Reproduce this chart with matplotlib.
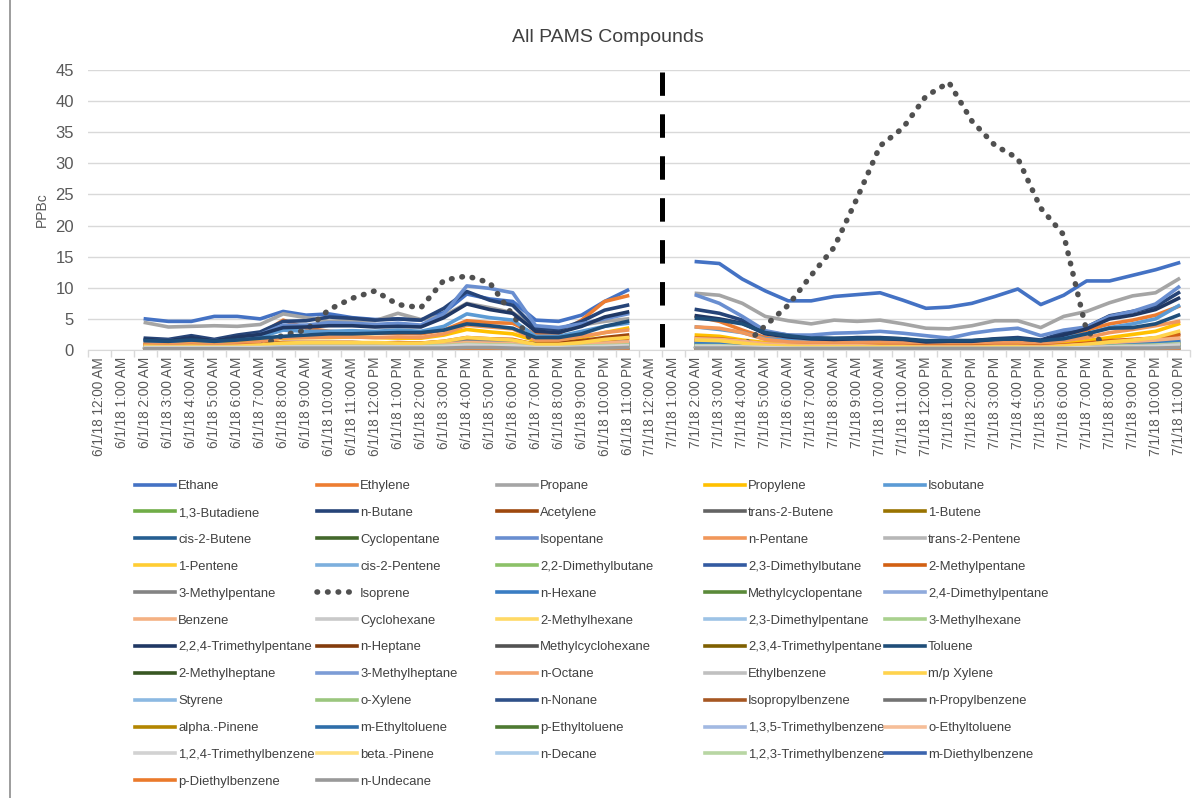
import numpy as np
import matplotlib
matplotlib.use('Agg')
import matplotlib.pyplot as plt
from matplotlib.lines import Line2D

plt.rcParams['font.family'] = ['Liberation Sans', 'DejaVu Sans']

days = ['6/1/18', '7/1/18']
hours = ['12:00 AM', '1:00 AM', '2:00 AM', '3:00 AM', '4:00 AM', '5:00 AM', '6:00 AM',
         '7:00 AM', '8:00 AM', '9:00 AM', '10:00 AM', '11:00 AM', '12:00 PM', '1:00 PM',
         '2:00 PM', '3:00 PM', '4:00 PM', '5:00 PM', '6:00 PM', '7:00 PM', '8:00 PM',
         '9:00 PM', '10:00 PM', '11:00 PM']
categories = [d + ' ' + h for d in days for h in hours]
# hours that have data on each day (2 AM .. 11 PM)
sample_hours = hours[2:]

names = ['Ethane', 'Ethylene', 'Propane', 'Propylene', 'Isobutane', '1,3-Butadiene', 'n-Butane',
         'Acetylene', 'trans-2-Butene', '1-Butene', 'cis-2-Butene', 'Cyclopentane', 'Isopentane',
         'n-Pentane', 'trans-2-Pentene', '1-Pentene', 'cis-2-Pentene', '2,2-Dimethylbutane',
         '2,3-Dimethylbutane', '2-Methylpentane', '3-Methylpentane', 'Isoprene', 'n-Hexane',
         'Methylcyclopentane', '2,4-Dimethylpentane', 'Benzene', 'Cyclohexane', '2-Methylhexane',
         '2,3-Dimethylpentane', '3-Methylhexane', '2,2,4-Trimethylpentane', 'n-Heptane',
         'Methylcyclohexane', '2,3,4-Trimethylpentane', 'Toluene', '2-Methylheptane',
         '3-Methylheptane', 'n-Octane', 'Ethylbenzene', 'm/p Xylene', 'Styrene', 'o-Xylene',
         'n-Nonane', 'Isopropylbenzene', 'n-Propylbenzene', 'alpha.-Pinene', 'm-Ethyltoluene',
         'p-Ethyltoluene', '1,3,5-Trimethylbenzene', 'o-Ethyltoluene', '1,2,4-Trimethylbenzene',
         'beta.-Pinene', 'n-Decane', '1,2,3-Trimethylbenzene', 'm-Diethylbenzene',
         'p-Diethylbenzene', 'n-Undecane']

# PPBc, first 22 values = 6/1 2AM..11PM, last 22 = 7/1 2AM..11PM
ethane = [5.0, 4.6, 4.6, 5.4, 5.4, 5.0, 6.2, 5.6, 5.8, 5.2, 4.9, 5.0, 4.8, 6.0, 9.0, 8.2, 7.8, 4.8, 4.6, 5.6, 7.8, 9.6,
          14.2, 13.9, 11.4, 9.5, 7.9, 7.9, 8.6, 8.9, 9.2, 8.0, 6.7, 6.9, 7.5, 8.6, 9.8, 7.3, 8.8, 11.1, 11.1, 12.0, 12.9, 14.0]
ethylene = [1.2, 1.2, 1.5, 1.3, 1.8, 2.5, 4.8, 3.5, 3.0, 2.8, 2.7, 2.7, 2.6, 3.2, 4.7, 4.4, 4.3, 2.5, 2.6, 4.8, 7.8, 8.7,
            5.4, 4.6, 3.2, 2.0, 1.6, 1.5, 1.5, 1.5, 1.5, 1.4, 1.2, 1.2, 1.3, 1.4, 1.5, 1.0, 2.0, 3.2, 4.2, 4.8, 5.6, 7.0]
propane = [4.4, 3.7, 3.8, 3.9, 3.8, 4.1, 5.8, 5.2, 4.6, 4.8, 4.7, 5.9, 4.9, 5.5, 7.5, 6.8, 6.0, 3.6, 3.5, 4.0, 4.6, 5.0,
           9.1, 8.8, 7.5, 5.4, 4.7, 4.2, 4.8, 4.6, 4.8, 4.2, 3.5, 3.4, 3.9, 4.7, 4.7, 3.6, 5.4, 6.2, 7.6, 8.7, 9.2, 11.4]
propylene = [0.9, 0.9, 1.0, 0.9, 1.1, 1.4, 1.9, 2.0, 2.0, 2.1, 2.0, 1.9, 1.9, 2.4, 3.3, 2.9, 2.6, 1.5, 1.5, 2.0, 2.8, 3.5,
             2.4, 2.2, 1.6, 1.2, 1.0, 0.9, 0.9, 0.9, 0.9, 0.9, 0.8, 0.8, 0.8, 0.9, 0.9, 0.7, 1.0, 1.5, 2.0, 2.5, 3.0, 4.2]
isobutane = [1.5, 1.4, 1.6, 1.4, 1.7, 2.1, 3.2, 3.0, 3.0, 3.1, 3.0, 3.2, 3.0, 3.8, 5.8, 5.2, 4.8, 2.2, 2.2, 3.0, 3.8, 4.3,
             3.7, 3.3, 2.8, 1.8, 1.6, 1.5, 1.6, 1.6, 1.7, 1.6, 1.4, 1.4, 1.5, 1.7, 1.8, 1.3, 2.0, 2.6, 3.6, 4.2, 5.0, 7.1]
butadiene = [0.1, 0.1, 0.1, 0.1, 0.1, 0.1, 0.2, 0.2, 0.2, 0.2, 0.2, 0.2, 0.2, 0.2, 0.3, 0.2, 0.2, 0.1, 0.1, 0.1, 0.2, 0.2,
             0.2, 0.2, 0.1, 0.1, 0.1, 0.1, 0.1, 0.1, 0.1, 0.1, 0.1, 0.1, 0.1, 0.1, 0.1, 0.1, 0.1, 0.1, 0.2, 0.2, 0.2, 0.3]
n_butane = [1.9, 1.7, 2.3, 1.7, 2.4, 2.9, 4.6, 4.7, 5.3, 5.1, 4.8, 5.0, 4.8, 6.7, 9.4, 8.0, 7.2, 3.5, 3.3, 4.6, 6.4, 7.2,
            6.5, 5.9, 4.8, 2.9, 2.4, 2.0, 1.8, 2.0, 2.0, 1.8, 1.3, 1.5, 1.5, 1.8, 2.0, 1.6, 2.8, 3.7, 5.5, 6.2, 7.0, 9.2]
acetylene = [0.8, 0.7, 0.8, 0.7, 0.8, 0.9, 1.2, 1.2, 1.2, 1.2, 1.1, 1.1, 1.1, 1.3, 1.6, 1.5, 1.4, 1.0, 1.1, 1.5, 2.0, 2.4,
             1.5, 1.4, 1.1, 0.8, 0.7, 0.6, 0.6, 0.6, 0.6, 0.6, 0.5, 0.5, 0.5, 0.6, 0.6, 0.5, 0.7, 1.0, 1.3, 1.6, 1.9, 2.6]
trans2butene = [0.1, 0.1, 0.1, 0.1, 0.1, 0.1, 0.2, 0.2, 0.2, 0.2, 0.2, 0.2, 0.2, 0.2, 0.3, 0.3, 0.3, 0.1, 0.1, 0.1, 0.2, 0.2,
                0.2, 0.2, 0.2, 0.1, 0.1, 0.1, 0.1, 0.1, 0.1, 0.1, 0.1, 0.1, 0.1, 0.1, 0.1, 0.1, 0.1, 0.1, 0.2, 0.2, 0.2, 0.3]
butene1 = [0.3, 0.3, 0.3, 0.3, 0.3, 0.4, 0.5, 0.5, 0.5, 0.5, 0.5, 0.5, 0.5, 0.6, 0.8, 0.7, 0.7, 0.4, 0.4, 0.5, 0.7, 0.8,
           0.7, 0.6, 0.5, 0.4, 0.3, 0.3, 0.3, 0.3, 0.3, 0.3, 0.3, 0.3, 0.3, 0.3, 0.3, 0.3, 0.3, 0.4, 0.5, 0.6, 0.7, 0.9]
cis2butene = [0.1, 0.1, 0.1, 0.1, 0.1, 0.1, 0.1, 0.1, 0.1, 0.1, 0.1, 0.1, 0.1, 0.2, 0.2, 0.2, 0.2, 0.1, 0.1, 0.1, 0.1, 0.2,
              0.2, 0.1, 0.1, 0.1, 0.1, 0.1, 0.1, 0.1, 0.1, 0.1, 0.1, 0.1, 0.1, 0.1, 0.1, 0.1, 0.1, 0.1, 0.1, 0.1, 0.2, 0.2]
cyclopentane = [0.1, 0.1, 0.1, 0.1, 0.1, 0.1, 0.2, 0.2, 0.2, 0.2, 0.2, 0.2, 0.2, 0.2, 0.3, 0.3, 0.3, 0.1, 0.1, 0.2, 0.2, 0.3,
                0.3, 0.3, 0.2, 0.1, 0.1, 0.1, 0.1, 0.1, 0.1, 0.1, 0.1, 0.1, 0.1, 0.1, 0.1, 0.1, 0.1, 0.2, 0.2, 0.3, 0.3, 0.4]
isopentane = [1.6, 1.5, 1.9, 1.5, 2.0, 2.5, 4.0, 4.0, 4.4, 4.3, 4.1, 4.3, 4.0, 5.8, 10.3, 9.9, 9.2, 3.9, 3.6, 4.2, 5.0, 5.8,
              8.8, 7.5, 5.4, 3.1, 2.4, 2.4, 2.7, 2.8, 3.0, 2.7, 2.3, 1.9, 2.7, 3.2, 3.5, 2.3, 3.2, 3.7, 5.4, 6.2, 7.4, 10.1]
n_pentane = [0.9, 0.8, 1.0, 0.8, 1.0, 1.3, 2.0, 2.0, 2.1, 2.1, 2.0, 2.1, 2.0, 2.6, 4.0, 3.7, 3.4, 1.6, 1.6, 2.2, 2.8, 3.2,
             3.7, 3.5, 2.8, 1.7, 1.3, 1.2, 1.2, 1.2, 1.3, 1.2, 1.0, 1.0, 1.1, 1.2, 1.3, 1.0, 1.5, 2.0, 2.8, 3.3, 3.9, 4.6]
trans2pentene = [0.1, 0.1, 0.1, 0.1, 0.1, 0.1, 0.1, 0.1, 0.1, 0.1, 0.1, 0.1, 0.1, 0.1, 0.2, 0.2, 0.1, 0.1, 0.1, 0.1, 0.1, 0.1,
                 0.1, 0.1, 0.1, 0.1, 0.1, 0.1, 0.1, 0.1, 0.1, 0.1, 0.1, 0.1, 0.1, 0.1, 0.1, 0.1, 0.1, 0.1, 0.1, 0.1, 0.1, 0.2]
pentene1 = [0.1, 0.1, 0.1, 0.1, 0.1, 0.1, 0.2, 0.2, 0.2, 0.2, 0.2, 0.2, 0.2, 0.2, 0.3, 0.3, 0.2, 0.1, 0.1, 0.2, 0.2, 0.2,
            0.2, 0.2, 0.1, 0.1, 0.1, 0.1, 0.1, 0.1, 0.1, 0.1, 0.1, 0.1, 0.1, 0.1, 0.1, 0.1, 0.1, 0.1, 0.1, 0.2, 0.2, 0.2]
cis2pentene = [0.05, 0.05, 0.05, 0.05, 0.05, 0.1, 0.1, 0.1, 0.1, 0.1, 0.1, 0.1, 0.1, 0.1, 0.2, 0.2, 0.1, 0.1, 0.05, 0.1, 0.1, 0.1,
               0.1, 0.1, 0.1, 0.05, 0.05, 0.05, 0.05, 0.05, 0.05, 0.05, 0.05, 0.05, 0.05, 0.05, 0.05, 0.05, 0.05, 0.05, 0.1, 0.1, 0.1, 0.1]
dmb22 = [0.2, 0.2, 0.2, 0.2, 0.2, 0.2, 0.3, 0.3, 0.3, 0.3, 0.3, 0.3, 0.3, 0.3, 0.4, 0.4, 0.4, 0.2, 0.2, 0.3, 0.3, 0.4,
         0.4, 0.3, 0.3, 0.2, 0.2, 0.2, 0.2, 0.2, 0.2, 0.2, 0.2, 0.2, 0.2, 0.2, 0.2, 0.2, 0.2, 0.2, 0.3, 0.3, 0.4, 0.5]
dmb23 = [0.4, 0.4, 0.4, 0.4, 0.4, 0.5, 0.7, 0.7, 0.7, 0.7, 0.7, 0.7, 0.7, 0.8, 1.1, 1.0, 0.9, 0.5, 0.5, 0.7, 0.9, 1.0,
         1.0, 0.9, 0.7, 0.5, 0.4, 0.4, 0.4, 0.4, 0.4, 0.4, 0.3, 0.3, 0.3, 0.4, 0.4, 0.3, 0.4, 0.6, 0.8, 0.9, 1.0, 1.3]
mp2 = [0.7, 0.6, 0.7, 0.6, 0.7, 0.8, 1.2, 1.2, 1.2, 1.2, 1.1, 1.2, 1.1, 1.4, 2.0, 1.8, 1.7, 0.9, 0.9, 1.2, 1.6, 1.9,
       1.9, 1.8, 1.4, 0.9, 0.8, 0.7, 0.7, 0.7, 0.7, 0.7, 0.6, 0.6, 0.6, 0.7, 0.7, 0.6, 0.8, 1.1, 1.5, 1.7, 1.9, 2.4]
mp3 = [0.5, 0.4, 0.5, 0.4, 0.5, 0.6, 0.8, 0.8, 0.8, 0.8, 0.8, 0.8, 0.8, 1.0, 1.4, 1.3, 1.2, 0.6, 0.6, 0.8, 1.1, 1.3,
       1.3, 1.2, 0.9, 0.6, 0.5, 0.5, 0.5, 0.5, 0.5, 0.5, 0.4, 0.4, 0.4, 0.5, 0.5, 0.4, 0.5, 0.7, 1.0, 1.1, 1.3, 1.6]
isoprene = [0.3, 0.3, 0.3, 0.3, 0.4, 0.6, 2.4, 3.2, 6.5, 8.3, 9.5, 7.3, 6.8, 11.2, 11.9, 10.8, 5.6, 0.6, 0.5, 0.5, 0.4, 0.4,
            0.4, 0.4, 0.5, 3.9, 7.2, 12.0, 16.5, 24.4, 32.8, 35.7, 40.8, 43.0, 36.8, 32.9, 30.8, 22.8, 18.5, 3.0, 0.5, 0.5, 0.4, 0.4]
hexane = [0.4, 0.4, 0.4, 0.4, 0.4, 0.5, 0.7, 0.7, 0.7, 0.7, 0.7, 0.7, 0.7, 0.8, 1.2, 1.1, 1.0, 0.5, 0.5, 0.7, 0.9, 1.1,
          1.1, 1.0, 0.8, 0.5, 0.4, 0.4, 0.4, 0.4, 0.4, 0.4, 0.3, 0.3, 0.3, 0.4, 0.4, 0.3, 0.4, 0.6, 0.8, 0.9, 1.1, 1.4]
mcp = [0.3, 0.3, 0.3, 0.3, 0.3, 0.3, 0.5, 0.5, 0.5, 0.5, 0.5, 0.5, 0.5, 0.6, 0.8, 0.7, 0.7, 0.4, 0.4, 0.5, 0.6, 0.7,
       0.7, 0.6, 0.5, 0.3, 0.3, 0.3, 0.3, 0.3, 0.3, 0.3, 0.2, 0.2, 0.2, 0.3, 0.3, 0.2, 0.3, 0.4, 0.5, 0.6, 0.7, 0.9]
dmp24 = [0.1, 0.1, 0.1, 0.1, 0.1, 0.1, 0.1, 0.1, 0.1, 0.1, 0.1, 0.1, 0.1, 0.1, 0.2, 0.2, 0.2, 0.1, 0.1, 0.1, 0.1, 0.2,
         0.2, 0.1, 0.1, 0.1, 0.1, 0.1, 0.1, 0.1, 0.1, 0.1, 0.1, 0.1, 0.1, 0.1, 0.1, 0.1, 0.1, 0.1, 0.1, 0.1, 0.2, 0.2]
benzene = [0.6, 0.6, 0.6, 0.6, 0.6, 0.7, 0.9, 0.9, 0.9, 0.9, 0.8, 0.8, 0.8, 0.9, 1.2, 1.1, 1.0, 0.7, 0.7, 0.9, 1.1, 1.3,
           1.8, 1.7, 1.4, 1.0, 0.8, 0.7, 0.7, 0.7, 0.6, 0.6, 0.5, 0.5, 0.5, 0.6, 0.6, 0.5, 0.7, 0.9, 1.2, 1.4, 1.6, 1.9]
cyclohexane = [0.2, 0.2, 0.2, 0.2, 0.2, 0.2, 0.3, 0.3, 0.3, 0.3, 0.3, 0.3, 0.3, 0.3, 0.4, 0.4, 0.3, 0.2, 0.2, 0.3, 0.3, 0.3,
               0.3, 0.3, 0.2, 0.2, 0.2, 0.2, 0.2, 0.2, 0.2, 0.2, 0.1, 0.1, 0.1, 0.2, 0.2, 0.1, 0.2, 0.2, 0.3, 0.3, 0.3, 0.4]
mh2 = [0.3, 0.3, 0.3, 0.3, 0.3, 0.4, 0.5, 0.5, 0.5, 0.5, 0.5, 0.5, 0.5, 0.6, 0.8, 0.7, 0.7, 0.4, 0.4, 0.5, 0.6, 0.7,
       0.6, 0.6, 0.5, 0.3, 0.3, 0.3, 0.3, 0.3, 0.3, 0.3, 0.2, 0.2, 0.2, 0.3, 0.3, 0.2, 0.3, 0.4, 0.5, 0.6, 0.7, 0.9]
dmp23 = [0.2, 0.2, 0.2, 0.2, 0.2, 0.3, 0.4, 0.4, 0.4, 0.4, 0.4, 0.4, 0.4, 0.4, 0.6, 0.5, 0.5, 0.3, 0.3, 0.4, 0.5, 0.5,
         0.5, 0.4, 0.3, 0.2, 0.2, 0.2, 0.2, 0.2, 0.2, 0.2, 0.2, 0.2, 0.2, 0.2, 0.2, 0.2, 0.2, 0.3, 0.4, 0.4, 0.5, 0.6]
mh3 = [0.3, 0.3, 0.3, 0.3, 0.3, 0.4, 0.6, 0.6, 0.6, 0.6, 0.6, 0.6, 0.6, 0.7, 0.9, 0.8, 0.8, 0.4, 0.4, 0.6, 0.7, 0.8,
       0.7, 0.7, 0.5, 0.4, 0.3, 0.3, 0.3, 0.3, 0.3, 0.3, 0.3, 0.3, 0.3, 0.3, 0.3, 0.3, 0.4, 0.5, 0.6, 0.7, 0.8, 1.0]
tmp224 = [1.7, 1.5, 2.0, 1.5, 2.1, 2.5, 3.6, 3.7, 3.9, 3.9, 3.7, 3.8, 3.7, 5.2, 7.4, 6.5, 5.9, 3.0, 2.8, 3.8, 5.3, 6.1,
          5.5, 5.0, 4.3, 2.6, 2.1, 1.8, 1.7, 1.8, 1.8, 1.7, 1.3, 1.4, 1.4, 1.7, 1.8, 1.5, 2.4, 3.4, 5.0, 5.6, 6.5, 8.3]
heptane = [0.2, 0.2, 0.2, 0.2, 0.2, 0.3, 0.4, 0.4, 0.4, 0.4, 0.4, 0.4, 0.4, 0.5, 0.6, 0.6, 0.5, 0.3, 0.3, 0.4, 0.5, 0.6,
           0.5, 0.5, 0.4, 0.3, 0.2, 0.2, 0.2, 0.2, 0.2, 0.2, 0.2, 0.2, 0.2, 0.2, 0.2, 0.2, 0.3, 0.4, 0.5, 0.5, 0.6, 0.8]
mch = [0.2, 0.2, 0.2, 0.2, 0.2, 0.2, 0.3, 0.3, 0.3, 0.3, 0.3, 0.3, 0.3, 0.4, 0.5, 0.4, 0.4, 0.2, 0.2, 0.3, 0.4, 0.4,
       0.4, 0.4, 0.3, 0.2, 0.2, 0.2, 0.2, 0.2, 0.2, 0.2, 0.1, 0.1, 0.1, 0.2, 0.2, 0.1, 0.2, 0.3, 0.3, 0.4, 0.4, 0.5]
tmp234 = [0.1, 0.1, 0.1, 0.1, 0.1, 0.1, 0.2, 0.2, 0.2, 0.2, 0.2, 0.2, 0.2, 0.2, 0.3, 0.3, 0.2, 0.1, 0.1, 0.2, 0.2, 0.2,
          0.2, 0.2, 0.1, 0.1, 0.1, 0.1, 0.1, 0.1, 0.1, 0.1, 0.1, 0.1, 0.1, 0.1, 0.1, 0.1, 0.1, 0.1, 0.2, 0.2, 0.2, 0.3]
toluene = [1.5, 1.4, 1.6, 1.4, 1.6, 1.9, 2.2, 2.4, 2.6, 2.6, 2.7, 2.8, 2.8, 3.2, 4.2, 3.9, 3.5, 2.0, 2.0, 2.6, 3.8, 4.6,
           5.1, 4.8, 4.2, 2.8, 2.3, 1.9, 1.9, 1.9, 1.9, 1.8, 1.5, 1.5, 1.5, 1.7, 1.8, 1.5, 1.8, 2.6, 3.5, 3.6, 4.2, 5.6]
mhep2 = [0.05, 0.05, 0.05, 0.05, 0.05, 0.1, 0.1, 0.1, 0.1, 0.1, 0.1, 0.1, 0.1, 0.1, 0.15, 0.15, 0.1, 0.05, 0.05, 0.1, 0.1, 0.1,
         0.1, 0.1, 0.1, 0.05, 0.05, 0.05, 0.05, 0.05, 0.05, 0.05, 0.05, 0.05, 0.05, 0.05, 0.05, 0.05, 0.05, 0.05, 0.1, 0.1, 0.1, 0.15]
mhep3 = [0.1, 0.1, 0.1, 0.1, 0.1, 0.1, 0.15, 0.15, 0.15, 0.15, 0.15, 0.15, 0.15, 0.15, 0.2, 0.2, 0.2, 0.1, 0.1, 0.15, 0.15, 0.2,
         0.15, 0.15, 0.1, 0.1, 0.1, 0.1, 0.1, 0.1, 0.1, 0.1, 0.05, 0.05, 0.05, 0.1, 0.1, 0.05, 0.1, 0.1, 0.15, 0.15, 0.2, 0.2]
octane = [0.1, 0.1, 0.1, 0.1, 0.1, 0.1, 0.15, 0.15, 0.15, 0.15, 0.15, 0.15, 0.15, 0.2, 0.25, 0.2, 0.2, 0.1, 0.1, 0.15, 0.2, 0.2,
          0.2, 0.2, 0.15, 0.1, 0.1, 0.1, 0.1, 0.1, 0.1, 0.1, 0.1, 0.1, 0.1, 0.1, 0.1, 0.1, 0.1, 0.15, 0.2, 0.2, 0.25, 0.3]
ethylbenzene = [0.3, 0.3, 0.3, 0.3, 0.3, 0.3, 0.4, 0.4, 0.4, 0.4, 0.4, 0.4, 0.4, 0.5, 0.6, 0.6, 0.5, 0.3, 0.3, 0.4, 0.5, 0.6,
                0.5, 0.5, 0.4, 0.3, 0.3, 0.2, 0.2, 0.2, 0.2, 0.2, 0.2, 0.2, 0.2, 0.2, 0.2, 0.2, 0.3, 0.4, 0.5, 0.6, 0.7, 0.9]
mp_xylene = [0.6, 0.5, 0.6, 0.5, 0.6, 0.8, 1.1, 1.2, 1.2, 1.2, 1.2, 1.1, 1.1, 1.4, 2.0, 1.8, 1.6, 0.9, 0.9, 1.2, 1.7, 2.0,
             1.6, 1.5, 1.1, 0.7, 0.6, 0.5, 0.5, 0.5, 0.5, 0.5, 0.4, 0.4, 0.4, 0.5, 0.5, 0.4, 0.6, 0.9, 1.3, 1.6, 2.0, 3.0]
styrene = [0.05, 0.05, 0.05, 0.05, 0.05, 0.05, 0.1, 0.1, 0.1, 0.1, 0.1, 0.1, 0.1, 0.1, 0.1, 0.1, 0.1, 0.05, 0.05, 0.05, 0.1, 0.1,
           0.1, 0.1, 0.05, 0.05, 0.05, 0.05, 0.05, 0.05, 0.05, 0.05, 0.05, 0.05, 0.05, 0.05, 0.05, 0.05, 0.05, 0.05, 0.05, 0.1, 0.1, 0.1]
o_xylene = [0.2, 0.2, 0.2, 0.2, 0.2, 0.3, 0.4, 0.4, 0.4, 0.4, 0.4, 0.4, 0.4, 0.5, 0.7, 0.6, 0.6, 0.3, 0.3, 0.4, 0.6, 0.7,
            0.5, 0.5, 0.4, 0.3, 0.2, 0.2, 0.2, 0.2, 0.2, 0.2, 0.2, 0.2, 0.2, 0.2, 0.2, 0.2, 0.2, 0.3, 0.4, 0.5, 0.6, 0.8]
nonane = [0.1, 0.1, 0.1, 0.1, 0.1, 0.1, 0.15, 0.15, 0.15, 0.15, 0.15, 0.15, 0.15, 0.15, 0.2, 0.2, 0.2, 0.1, 0.1, 0.15, 0.15, 0.2,
          0.15, 0.15, 0.1, 0.1, 0.1, 0.1, 0.1, 0.1, 0.1, 0.1, 0.1, 0.1, 0.1, 0.1, 0.1, 0.1, 0.1, 0.1, 0.15, 0.15, 0.2, 0.2]
ipb = [0.05, 0.05, 0.05, 0.05, 0.05, 0.05, 0.05, 0.05, 0.05, 0.05, 0.05, 0.05, 0.05, 0.05, 0.1, 0.1, 0.05, 0.05, 0.05, 0.05, 0.05, 0.05,
       0.05, 0.05, 0.05, 0.05, 0.05, 0.05, 0.05, 0.05, 0.05, 0.05, 0.05, 0.05, 0.05, 0.05, 0.05, 0.05, 0.05, 0.05, 0.05, 0.05, 0.05, 0.1]
npb = [0.05, 0.05, 0.05, 0.05, 0.05, 0.05, 0.1, 0.1, 0.1, 0.1, 0.1, 0.1, 0.1, 0.1, 0.1, 0.1, 0.1, 0.05, 0.05, 0.05, 0.1, 0.1,
       0.1, 0.1, 0.05, 0.05, 0.05, 0.05, 0.05, 0.05, 0.05, 0.05, 0.05, 0.05, 0.05, 0.05, 0.05, 0.05, 0.05, 0.05, 0.1, 0.1, 0.1, 0.1]
a_pinene = [0.1, 0.1, 0.1, 0.1, 0.1, 0.1, 0.15, 0.15, 0.2, 0.2, 0.2, 0.2, 0.2, 0.2, 0.25, 0.25, 0.2, 0.15, 0.15, 0.15, 0.15, 0.15,
            0.2, 0.2, 0.2, 0.2, 0.2, 0.25, 0.25, 0.3, 0.3, 0.3, 0.3, 0.3, 0.3, 0.3, 0.3, 0.25, 0.25, 0.2, 0.2, 0.2, 0.2, 0.2]
m_ethyltoluene = [0.2, 0.2, 0.2, 0.2, 0.2, 0.2, 0.3, 0.3, 0.3, 0.3, 0.3, 0.3, 0.3, 0.3, 0.4, 0.4, 0.3, 0.2, 0.2, 0.3, 0.3, 0.4,
                  0.3, 0.3, 0.2, 0.2, 0.2, 0.2, 0.2, 0.2, 0.2, 0.2, 0.1, 0.1, 0.1, 0.2, 0.2, 0.1, 0.2, 0.2, 0.3, 0.3, 0.4, 0.5]
p_ethyltoluene = [0.1, 0.1, 0.1, 0.1, 0.1, 0.1, 0.15, 0.15, 0.15, 0.15, 0.15, 0.15, 0.15, 0.15, 0.2, 0.2, 0.15, 0.1, 0.1, 0.15, 0.15, 0.2,
                  0.15, 0.15, 0.1, 0.1, 0.1, 0.1, 0.1, 0.1, 0.1, 0.1, 0.05, 0.05, 0.05, 0.1, 0.1, 0.05, 0.1, 0.1, 0.15, 0.15, 0.2, 0.2]
tmb135 = [0.1, 0.1, 0.1, 0.1, 0.1, 0.1, 0.15, 0.15, 0.15, 0.15, 0.15, 0.15, 0.15, 0.15, 0.2, 0.2, 0.2, 0.1, 0.1, 0.15, 0.15, 0.2,
          0.15, 0.15, 0.1, 0.1, 0.1, 0.1, 0.1, 0.1, 0.1, 0.1, 0.1, 0.1, 0.1, 0.1, 0.1, 0.1, 0.1, 0.1, 0.15, 0.15, 0.2, 0.25]
o_ethyltoluene = [0.1, 0.1, 0.1, 0.1, 0.1, 0.1, 0.1, 0.1, 0.1, 0.1, 0.1, 0.1, 0.1, 0.1, 0.15, 0.15, 0.1, 0.1, 0.1, 0.1, 0.1, 0.15,
                  0.1, 0.1, 0.1, 0.05, 0.05, 0.05, 0.05, 0.05, 0.05, 0.05, 0.05, 0.05, 0.05, 0.05, 0.05, 0.05, 0.05, 0.1, 0.1, 0.1, 0.15, 0.15]
tmb124 = [0.4, 0.4, 0.4, 0.4, 0.4, 0.4, 0.5, 0.5, 0.5, 0.5, 0.5, 0.5, 0.5, 0.6, 0.8, 0.7, 0.7, 0.4, 0.4, 0.5, 0.6, 0.7,
          0.6, 0.6, 0.5, 0.4, 0.3, 0.3, 0.3, 0.3, 0.3, 0.3, 0.3, 0.3, 0.3, 0.3, 0.3, 0.3, 0.3, 0.4, 0.5, 0.5, 0.6, 0.8]
b_pinene = [0.05, 0.05, 0.05, 0.05, 0.05, 0.05, 0.1, 0.1, 0.1, 0.1, 0.1, 0.1, 0.1, 0.1, 0.1, 0.1, 0.1, 0.05, 0.05, 0.05, 0.05, 0.05,
            0.1, 0.1, 0.1, 0.1, 0.1, 0.1, 0.1, 0.1, 0.1, 0.1, 0.1, 0.1, 0.1, 0.1, 0.1, 0.1, 0.1, 0.1, 0.1, 0.1, 0.1, 0.1]
decane = [0.1, 0.1, 0.1, 0.1, 0.1, 0.2, 0.2, 0.2, 0.2, 0.2, 0.2, 0.2, 0.2, 0.2, 0.3, 0.3, 0.2, 0.1, 0.1, 0.2, 0.2, 0.3,
          0.2, 0.2, 0.2, 0.1, 0.1, 0.1, 0.1, 0.1, 0.1, 0.1, 0.1, 0.1, 0.1, 0.1, 0.1, 0.1, 0.1, 0.2, 0.2, 0.2, 0.3, 0.3]
tmb123 = [0.1, 0.1, 0.1, 0.1, 0.1, 0.1, 0.15, 0.15, 0.15, 0.15, 0.15, 0.15, 0.15, 0.15, 0.2, 0.2, 0.15, 0.1, 0.1, 0.1, 0.15, 0.15,
          0.15, 0.15, 0.1, 0.1, 0.1, 0.1, 0.1, 0.1, 0.1, 0.1, 0.05, 0.05, 0.05, 0.1, 0.1, 0.05, 0.1, 0.1, 0.1, 0.15, 0.15, 0.2]
m_diethylbenzene = [0.02, 0.02, 0.02, 0.02, 0.02, 0.02, 0.03, 0.03, 0.03, 0.03, 0.03, 0.03, 0.03, 0.03, 0.04, 0.04, 0.03, 0.02, 0.02, 0.02, 0.03, 0.03,
                    0.03, 0.03, 0.02, 0.02, 0.02, 0.02, 0.02, 0.02, 0.02, 0.02, 0.02, 0.02, 0.02, 0.02, 0.02, 0.02, 0.02, 0.02, 0.03, 0.03, 0.03, 0.04]
p_diethylbenzene = [0.03, 0.03, 0.03, 0.03, 0.03, 0.03, 0.04, 0.04, 0.04, 0.04, 0.04, 0.04, 0.04, 0.04, 0.05, 0.05, 0.04, 0.03, 0.03, 0.03, 0.04, 0.04,
                    0.04, 0.04, 0.03, 0.03, 0.03, 0.03, 0.03, 0.03, 0.03, 0.03, 0.03, 0.03, 0.03, 0.03, 0.03, 0.03, 0.03, 0.03, 0.04, 0.04, 0.04, 0.05]
undecane = [0.2, 0.2, 0.2, 0.2, 0.2, 0.2, 0.3, 0.3, 0.3, 0.3, 0.3, 0.3, 0.3, 0.3, 0.4, 0.4, 0.3, 0.2, 0.2, 0.3, 0.3, 0.4,
            0.3, 0.3, 0.3, 0.2, 0.2, 0.2, 0.2, 0.2, 0.2, 0.2, 0.2, 0.2, 0.2, 0.2, 0.2, 0.2, 0.2, 0.2, 0.3, 0.3, 0.3, 0.4]

series_values = [ethane, ethylene, propane, propylene, isobutane, butadiene, n_butane, acetylene,
                 trans2butene, butene1, cis2butene, cyclopentane, isopentane, n_pentane, trans2pentene,
                 pentene1, cis2pentene, dmb22, dmb23, mp2, mp3, isoprene, hexane, mcp, dmp24, benzene,
                 cyclohexane, mh2, dmp23, mh3, tmp224, heptane, mch, tmp234, toluene, mhep2, mhep3,
                 octane, ethylbenzene, mp_xylene, styrene, o_xylene, nonane, ipb, npb, a_pinene,
                 m_ethyltoluene, p_ethyltoluene, tmb135, o_ethyltoluene, tmb124, b_pinene, decane,
                 tmb123, m_diethylbenzene, p_diethylbenzene, undecane]

# Office-style palette
colors = ['#4472C4', '#ED7D31', '#A5A5A5', '#FFC000', '#5B9BD5', '#70AD47',
          '#264478', '#9E480E', '#636363', '#997300', '#255E91', '#43682B',
          '#698ED0', '#F1975A', '#B7B7B7', '#FFCD33', '#7CAFDD', '#8CC168',
          '#335AA1', '#D26012', '#848484', '#505050', '#3A7DC3', '#5A8A39',
          '#8FAADC', '#F4B183', '#C9C9C9', '#FFD966', '#9DC3E6', '#A9D18E',
          '#203864', '#843C0C', '#525252', '#7F6000', '#1F4E79', '#385723',
          '#7C9CD6', '#F3A46F', '#C0C0C0', '#FFD34D', '#8CB9E2', '#9BC67E',
          '#2F5089', '#A65722', '#737373', '#B38600', '#2F6EA9', '#4E7A32',
          '#A2B9E2', '#F6BE98', '#D2D2D2', '#FFE080', '#ADCDEA', '#B8D6A3',
          '#3B64AE', '#EA7A2B', '#999999']

W, H = 1192, 798
fig = plt.figure(figsize=(W / 100, H / 100), dpi=100)
ax = fig.add_axes([88 / W, 448 / H, 1102 / W, 280 / H])

xs = [categories.index(days[0] + ' ' + h) for h in sample_hours] + \
     [categories.index(days[1] + ' ' + h) for h in sample_hours]
xpos = np.arange(len(categories))

for name, vals, col in zip(names, series_values, colors):
    y = np.full(len(categories), np.nan)
    y[xs] = vals
    if name == 'Isoprene':
        ax.plot(xpos, y, color=col, lw=4.0, linestyle=(0, (0.1, 1.8)),
                dash_capstyle='round', label=name)
    else:
        ax.plot(xpos, y, color=col, lw=2.6, solid_joinstyle='round', label=name)

# dashed separator between the two days
ax.axvline(24.5, ymin=0.011, ymax=0.993, color='black', lw=3.6,
           linestyle=(0, (16.9 / 3.6, 13.3 / 3.6)))

ax.set_xlim(-0.5, len(categories) - 0.5)
ax.set_ylim(0, 45)
ax.set_yticks(np.arange(0, 46, 5))
ax.set_xticks(xpos)
ax.set_xticklabels(categories, rotation=90, fontsize=9.8, color='#595959')
ax.set_xticks(np.arange(-0.5, len(categories), 1), minor=True)
ax.tick_params(axis='x', which='major', length=0, pad=5)
ax.tick_params(axis='x', which='minor', length=5, color='#D9D9D9', width=1)
ax.tick_params(axis='y', length=0, pad=10, labelsize=12, labelcolor='#595959')
ax.yaxis.grid(True, color='#D9D9D9', lw=1.0)
ax.set_axisbelow(True)
for s in ['top', 'right', 'left']:
    ax.spines[s].set_visible(False)
ax.spines['bottom'].set_color('#D9D9D9')
ax.set_ylabel('PPBc', fontsize=10, color='#595959', labelpad=5)

fig.text(608 / W, 1 - 37 / H, 'All PAMS Compounds', ha='center', va='center',
         fontsize=14, color='#404040')

# chart border (left edge)
fig.add_artist(Line2D([10 / W, 10 / W], [0, 1], color='#8c8c8c', lw=1.2))

# legend: 5 columns, filled row by row
lines = ax.get_lines()[:len(names)]
col_x = [135, 317, 497, 705, 885]
for c in range(5):
    leg = fig.legend(lines[c::5], names[c::5], loc='upper left',
                     bbox_to_anchor=(col_x[c] / W, 1 - 480 / H), frameon=False,
                     fontsize=9.4, handlelength=3.05, handletextpad=0.25,
                     labelspacing=1.13, borderpad=0, borderaxespad=0,
                     labelcolor='#404040')

fig.savefig('out.png', dpi=100)
plt.close(fig)
